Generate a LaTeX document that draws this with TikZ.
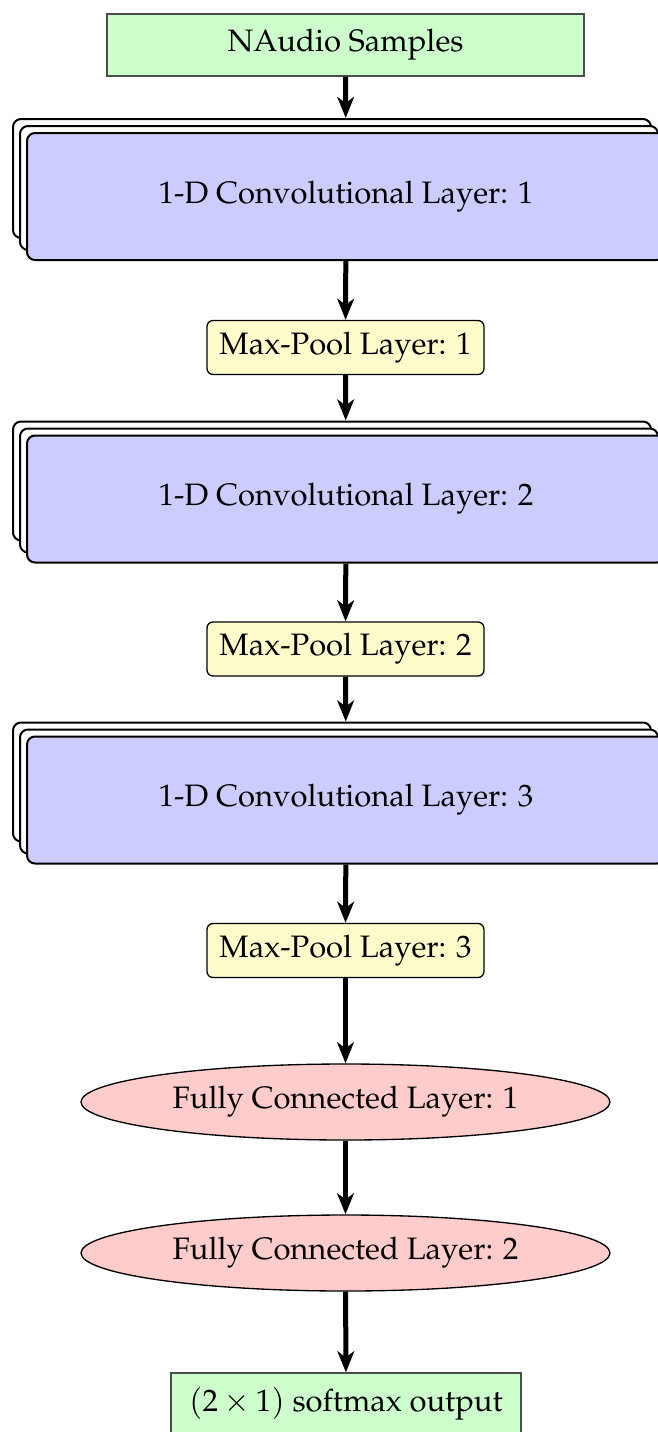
\documentclass[tikz,border=0pt]{standalone}
\usepackage[T1]{fontenc}
\usepackage{mathpazo}
\usetikzlibrary{arrows.meta,shapes.geometric}
\begin{document}
\begin{tikzpicture}[x=0.3pt,y=-0.3pt,
  every node/.style={font=\fontsize{9.3pt}{11pt}\selectfont},
  inbox/.style={draw=black!70, fill=green!20, minimum width=143.1pt, minimum height=18.6pt, inner sep=0pt},
  conv/.style={draw, line width=0.6pt, fill=blue!20, rounded corners=2.4pt, minimum width=191.4pt, minimum height=38.1pt},
  convback/.style={draw, line width=0.6pt, fill=white, rounded corners=2.4pt, minimum width=191.4pt},
  pool/.style={draw, fill=yellow!20, rounded corners=1.8pt, minimum width=83.1pt, minimum height=16.2pt, inner sep=0pt},
  fc/.style={ellipse, draw, fill=red!20, minimum width=158.7pt, minimum height=22.8pt, inner sep=0pt},
  arr/.style={-{Stealth[length=6.3pt,width=5pt,inset=1.8pt]}, line width=1.5pt},
  toback/.style={shorten >=4.2pt}]
\useasboundingbox (0,0) rectangle (657,1432);
\node[inbox] (in) at (345.5,45) {NAudio Samples};
% conv stack 1
\node[convback, minimum height=35.7pt] (c1b) at (332,178.5) {};
\node[convback, minimum height=37.2pt] (c1m) at (339,188) {};
\node[conv] (c1) at (346,196.5) {1-D Convolutional Layer: 1};
\node[pool] (p1) at (345.5,347.5) {Max-Pool Layer: 1};
% conv stack 2
\node[convback, minimum height=35.7pt] (c2b) at (332,481) {};
\node[convback, minimum height=37.2pt] (c2m) at (339,490.5) {};
\node[conv] (c2) at (346,499) {1-D Convolutional Layer: 2};
\node[pool] (p2) at (345.5,649) {Max-Pool Layer: 2};
% conv stack 3
\node[convback, minimum height=35.7pt] (c3b) at (332,782) {};
\node[convback, minimum height=37.2pt] (c3m) at (339,791.5) {};
\node[conv] (c3) at (346,800) {1-D Convolutional Layer: 3};
\node[pool] (p3) at (345.5,950.5) {Max-Pool Layer: 3};
\node[fc] (f1) at (345.5,1102) {Fully Connected Layer: 1};
\node[fc] (f2) at (345.5,1253) {Fully Connected Layer: 2};
\node[inbox, minimum width=105pt] (out) at (346,1404) {$(2\times 1)$ softmax output};
\draw[arr,toback] (in) -- (c1);
\draw[arr] (c1) -- (p1);
\draw[arr,toback] (p1) -- (c2);
\draw[arr] (c2) -- (p2);
\draw[arr,toback] (p2) -- (c3);
\draw[arr] (c3) -- (p3);
\draw[arr] (p3) -- (f1);
\draw[arr] (f1) -- (f2);
\draw[arr] (f2) -- (out);
\end{tikzpicture}
\end{document}
